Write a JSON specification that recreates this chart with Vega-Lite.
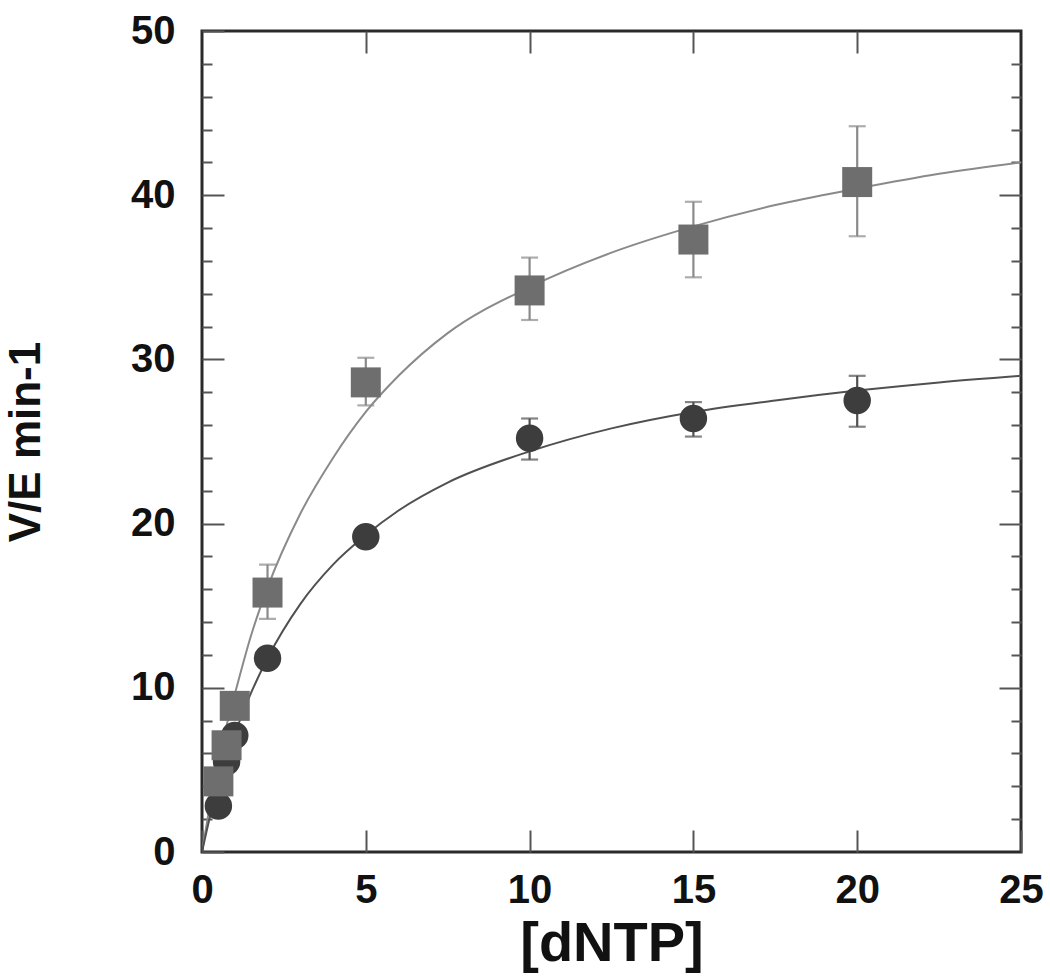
{
  "$schema": "https://vega.github.io/schema/vega-lite/v6.json",
  "width": 819,
  "height": 821,
  "autosize": {"type": "none"},
  "padding": {"left": 202, "top": 31, "right": 29, "bottom": 126},
  "background": "white",
  "config": {
    "view": {"stroke": "#2a2a2a", "strokeWidth": 3},
    "axis": {"labelFont": "Liberation Sans", "titleFont": "Liberation Sans", "labelFontWeight": "bold", "titleFontWeight": "bold", "labelColor": "#111", "titleColor": "#111", "grid": false, "domain": false, "tickColor": "#555", "tickWidth": 2}
  },
  "datasets": {
    "pts": [
      {"x": 0.5, "v": 4.3, "lo": null, "hi": null, "series": "square"},
      {"x": 0.75, "v": 6.5, "lo": null, "hi": null, "series": "square"},
      {"x": 1, "v": 8.9, "lo": null, "hi": null, "series": "square"},
      {"x": 2, "v": 15.8, "lo": 14.2, "hi": 17.5, "series": "square"},
      {"x": 5, "v": 28.6, "lo": 27.2, "hi": 30.1, "series": "square"},
      {"x": 10, "v": 34.2, "lo": 32.4, "hi": 36.2, "series": "square"},
      {"x": 15, "v": 37.3, "lo": 35.0, "hi": 39.6, "series": "square"},
      {"x": 20, "v": 40.8, "lo": 37.5, "hi": 44.2, "series": "square"},
      {"x": 0.5, "v": 2.8, "lo": null, "hi": null, "series": "circle"},
      {"x": 0.75, "v": 5.5, "lo": null, "hi": null, "series": "circle"},
      {"x": 1, "v": 7.1, "lo": null, "hi": null, "series": "circle"},
      {"x": 2, "v": 11.8, "lo": null, "hi": null, "series": "circle"},
      {"x": 5, "v": 19.2, "lo": null, "hi": null, "series": "circle"},
      {"x": 10, "v": 25.2, "lo": 23.9, "hi": 26.4, "series": "circle"},
      {"x": 15, "v": 26.4, "lo": 25.3, "hi": 27.4, "series": "circle"},
      {"x": 20, "v": 27.5, "lo": 25.9, "hi": 29.0, "series": "circle"}
    ],
    "fit": [
      {"x": 0, "v": 0, "series": "square"},
      {"x": 0.25, "v": 2.9, "series": "square"},
      {"x": 0.5, "v": 5.4, "series": "square"},
      {"x": 0.75, "v": 7.7, "series": "square"},
      {"x": 1, "v": 9.6, "series": "square"},
      {"x": 1.5, "v": 13.2, "series": "square"},
      {"x": 2, "v": 16.1, "series": "square"},
      {"x": 3, "v": 20.6, "series": "square"},
      {"x": 4, "v": 24.0, "series": "square"},
      {"x": 5, "v": 26.8, "series": "square"},
      {"x": 6, "v": 29.0, "series": "square"},
      {"x": 7.5, "v": 31.6, "series": "square"},
      {"x": 10, "v": 34.4, "series": "square"},
      {"x": 12.5, "v": 36.5, "series": "square"},
      {"x": 15, "v": 38.1, "series": "square"},
      {"x": 17.5, "v": 39.4, "series": "square"},
      {"x": 20, "v": 40.4, "series": "square"},
      {"x": 22.5, "v": 41.3, "series": "square"},
      {"x": 25, "v": 42.0, "series": "square"},
      {"x": 0, "v": 0, "series": "circle"},
      {"x": 0.25, "v": 2.2, "series": "circle"},
      {"x": 0.5, "v": 4.1, "series": "circle"},
      {"x": 0.75, "v": 5.8, "series": "circle"},
      {"x": 1, "v": 7.2, "series": "circle"},
      {"x": 1.5, "v": 9.7, "series": "circle"},
      {"x": 2, "v": 11.8, "series": "circle"},
      {"x": 3, "v": 15.1, "series": "circle"},
      {"x": 4, "v": 17.5, "series": "circle"},
      {"x": 5, "v": 19.3, "series": "circle"},
      {"x": 6, "v": 20.8, "series": "circle"},
      {"x": 7.5, "v": 22.5, "series": "circle"},
      {"x": 10, "v": 24.4, "series": "circle"},
      {"x": 12.5, "v": 25.8, "series": "circle"},
      {"x": 15, "v": 26.8, "series": "circle"},
      {"x": 17.5, "v": 27.5, "series": "circle"},
      {"x": 20, "v": 28.1, "series": "circle"},
      {"x": 22.5, "v": 28.6, "series": "circle"},
      {"x": 25, "v": 29.0, "series": "circle"}
    ]
  },
  "resolve": {"axis": {"x": "independent", "y": "independent"}},
  "layer": [
    {
      "data": {"name": "fit"},
      "mark": {"type": "line", "interpolate": "monotone", "strokeWidth": 2, "clip": true},
      "encoding": {
        "x": {"field": "x", "type": "quantitative", "scale": {"domain": [0, 25], "nice": false},
          "axis": {"orient": "bottom", "values": [0, 5, 10, 15, 20, 25], "title": "[dNTP]", "titleFontSize": 56, "labelFontSize": 40, "tickSize": -22, "labelPadding": 40, "titlePadding": 6, "labelFlush": false}},
        "y": {"field": "v", "type": "quantitative", "scale": {"domain": [0, 50], "nice": false},
          "axis": {"orient": "left", "values": [0, 2, 4, 6, 8, 10, 12, 14, 16, 18, 20, 22, 24, 26, 28, 30, 32, 34, 36, 38, 40, 42, 44, 46, 48, 50],
            "labelExpr": "datum.value % 10 === 0 ? datum.label : ''",
            "tickSize": {"condition": {"test": "datum.value % 10 === 0", "value": -22}, "value": -10},
            "title": "V/E min-1", "titleFontSize": 44, "labelFontSize": 40, "labelPadding": 49, "titlePadding": 82, "labelFlush": false}},
        "color": {"field": "series", "type": "nominal", "scale": {"domain": ["square", "circle"], "range": ["#8a8a8a", "#505050"]}, "legend": null}
      }
    },
    {
      "data": {"name": "pts"},
      "transform": [{"filter": "datum.lo != null"}],
      "mark": {"type": "rule", "strokeWidth": 2.2},
      "encoding": {
        "x": {"field": "x", "type": "quantitative", "axis": {"orient": "top", "values": [5, 10, 15, 20], "labels": false, "title": null, "tickSize": -22}},
        "y": {"field": "lo", "type": "quantitative",
          "axis": {"orient": "right", "values": [2, 4, 6, 8, 10, 12, 14, 16, 18, 20, 22, 24, 26, 28, 30, 32, 34, 36, 38, 40, 42, 44, 46, 48],
            "labels": false, "title": null,
            "tickSize": {"condition": {"test": "datum.value % 10 === 0", "value": -22}, "value": -10}}},
        "y2": {"field": "hi"},
        "color": {"field": "series", "type": "nominal", "scale": {"domain": ["square", "circle"], "range": ["#666666", "#444444"]}, "legend": null}
      }
    },
    {
      "data": {"name": "pts"},
      "transform": [{"filter": "datum.lo != null"}],
      "mark": {"type": "tick", "orient": "horizontal", "size": 17, "thickness": 2.2},
      "encoding": {
        "x": {"field": "x", "type": "quantitative", "axis": null},
        "y": {"field": "lo", "type": "quantitative", "axis": null},
        "color": {"field": "series", "type": "nominal", "scale": {"domain": ["square", "circle"], "range": ["#666666", "#444444"]}, "legend": null}
      }
    },
    {
      "data": {"name": "pts"},
      "transform": [{"filter": "datum.hi != null"}],
      "mark": {"type": "tick", "orient": "horizontal", "size": 17, "thickness": 2.2},
      "encoding": {
        "x": {"field": "x", "type": "quantitative", "axis": null},
        "y": {"field": "hi", "type": "quantitative", "axis": null},
        "color": {"field": "series", "type": "nominal", "scale": {"domain": ["square", "circle"], "range": ["#666666", "#444444"]}, "legend": null}
      }
    },
    {
      "data": {"name": "pts"},
      "transform": [{"filter": "datum.series === 'circle'"}],
      "mark": {"type": "point", "shape": "circle", "filled": true, "size": 755, "opacity": 1, "color": "#3d3d3d"},
      "encoding": {
        "x": {"field": "x", "type": "quantitative", "axis": null},
        "y": {"field": "v", "type": "quantitative", "axis": null}
      }
    },
    {
      "data": {"name": "pts"},
      "transform": [{"filter": "datum.series === 'square'"}],
      "mark": {"type": "point", "shape": "square", "filled": true, "size": 900, "opacity": 1, "color": "#6e6e6e"},
      "encoding": {
        "x": {"field": "x", "type": "quantitative", "axis": null},
        "y": {"field": "v", "type": "quantitative", "axis": null}
      }
    }
  ]
}
